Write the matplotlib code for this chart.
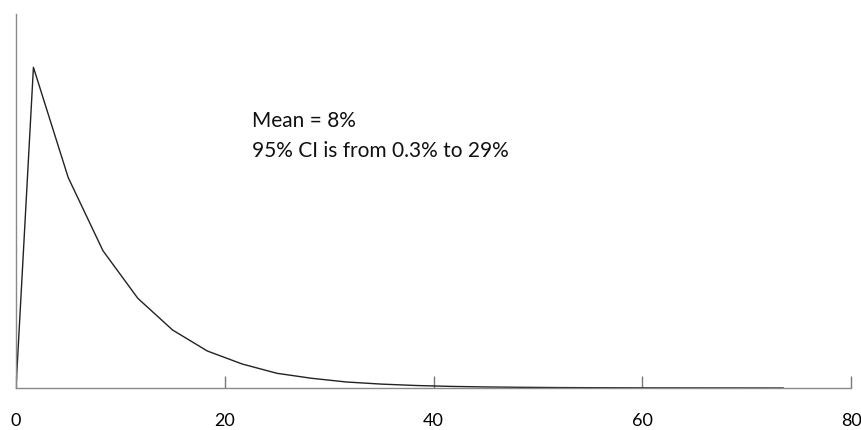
import numpy as np
import matplotlib.pyplot as plt

plt.rcParams['font.family'] = ['Lato', 'DejaVu Sans']

# distribution of the estimate (bin centres, relative height)
x = [0, 1.67, 5.0, 8.33, 11.67, 15.0, 18.33, 21.67, 25.0, 28.33, 31.67,
     35.0, 38.33, 41.67, 45.0, 48.33, 51.67, 55.0, 58.33, 61.67, 65.0,
     68.33, 71.67, 73.5]
y = [0, 320.7, 210.5, 137.3, 89.7, 58.0, 37.0, 24.0, 14.7, 9.7, 6.0,
     3.9, 2.5, 1.6, 1.05, 0.7, 0.45, 0.3, 0.19, 0.12, 0.08, 0.05, 0.03, 0.0]
xticks = [0, 20, 40, 60, 80]

fig = plt.figure(figsize=(8.62, 4.30), dpi=100)
ax = fig.add_axes([16 / 862, 42 / 430, 835 / 862, 374 / 430])

ax.plot(x, y, color='#222222', lw=1.0)
ax.set_xlim(0, 80)
ax.set_ylim(0, 374)

for s in ['top', 'right']:
    ax.spines[s].set_visible(False)
for s in ['left', 'bottom']:
    ax.spines[s].set_color('#8a8a8a')
    ax.spines[s].set_linewidth(1.0)

ax.set_yticks([])
ax.set_xticks(xticks)
ax.tick_params(axis='x', direction='in', length=9, width=1.0,
               color='#777777', pad=18, labelsize=13)

# baseline of the last line
ax.text(22.6, 231.3, 'Mean = 8%\n95% CI is from 0.3% to 29%',
        fontsize=15, va='baseline', ha='left', linespacing=1.6,
        color='#111111')

fig.savefig('out.png', dpi=100)
